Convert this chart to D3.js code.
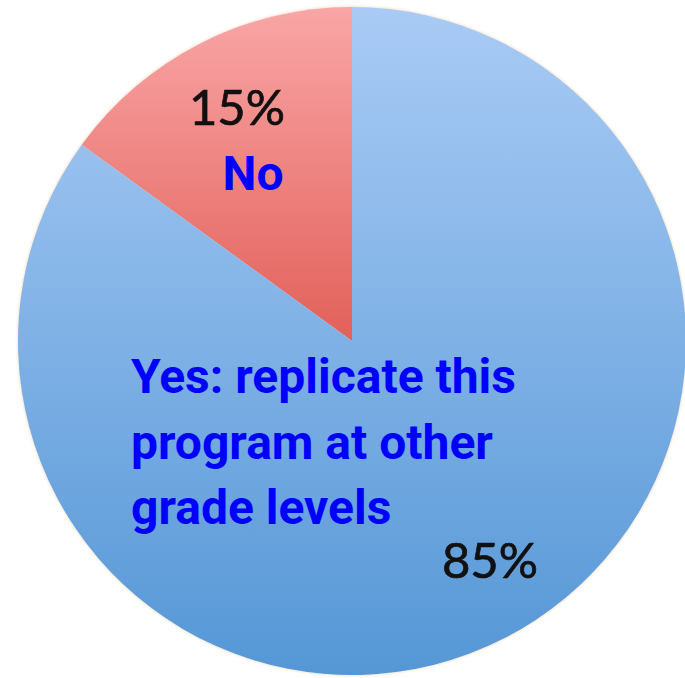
<!DOCTYPE html>
<html><head><meta charset="utf-8">
<script src="https://cdn.jsdelivr.net/npm/d3@7"></script>
<style>html,body{margin:0;padding:0;background:#fff;overflow:hidden}</style>
</head><body>
<script>
const categories = ["No", "Yes: replicate this program at other grade levels"];
const values = [15, 85];
const pctLabels = ["15%", "85%"];
const catLines = [["No"], ["Yes: replicate this", "program at other", "grade levels"]];

const W = 685, H = 678, cx = 352, cy = 341, R = 334;
const svg = d3.select("body").append("svg").attr("width", W).attr("height", H);
const defs = svg.append("defs");
const grads = [["#f9a6a6", "#e2605a"], ["#a9cbf5", "#5597d6"]];
grads.forEach((g, i) => {
  const lg = defs.append("linearGradient").attr("id", "g" + i)
    .attr("x1", 0).attr("y1", 0).attr("x2", 0).attr("y2", 1);
  lg.append("stop").attr("offset", "0%").attr("stop-color", g[0]);
  lg.append("stop").attr("offset", "100%").attr("stop-color", g[1]);
});
const f = defs.append("filter").attr("id", "soft").attr("x", "-5%").attr("y", "-5%").attr("width", "110%").attr("height", "110%");
f.append("feGaussianBlur").attr("stdDeviation", 1.2);

const pie = d3.pie().sort(null).startAngle(-values[0] / 100 * 2 * Math.PI).endAngle(2 * Math.PI - values[0] / 100 * 2 * Math.PI);
const arcs = pie(values);
const arc = d3.arc().innerRadius(0).outerRadius(R);
const g = svg.append("g").attr("transform", `translate(${cx},${cy})`);
g.append("circle").attr("r", R + 1).attr("fill", "#f3e6d6").attr("filter", "url(#soft)");
g.selectAll("path").data(arcs).join("path")
  .attr("d", arc).attr("fill", (d, i) => `url(#g${i})`);

// percent labels
const pctPos = [[237, 125], [490, 578]];
svg.selectAll("text.pct").data(pctLabels).join("text").attr("class", "pct")
  .attr("x", (d, i) => pctPos[i][0]).attr("y", (d, i) => pctPos[i][1])
  .attr("text-anchor", "middle")
  .style("font-family", "Lato, 'Open Sans', sans-serif").style("font-size", "49px")
  .attr("fill", "#111").attr("stroke", "#111").attr("stroke-width", 0.7).text(d => d);

// category labels
const catPos = [{x: 253, y: 190, anchor: "middle"}, {x: 131, y: 393, anchor: "start"}];
catLines.forEach((lines, i) => {
  const t = svg.append("text").attr("x", catPos[i].x).attr("y", catPos[i].y)
    .attr("text-anchor", catPos[i].anchor)
    .style("font-family", "Roboto, sans-serif").style("font-weight", "700").style("font-size", "48px")
    .attr("fill", "#0000ff");
  lines.forEach((l, j) => t.append("tspan").attr("x", catPos[i].x).attr("dy", j === 0 ? 0 : 65.5).text(l));
});
</script>
</body></html>
